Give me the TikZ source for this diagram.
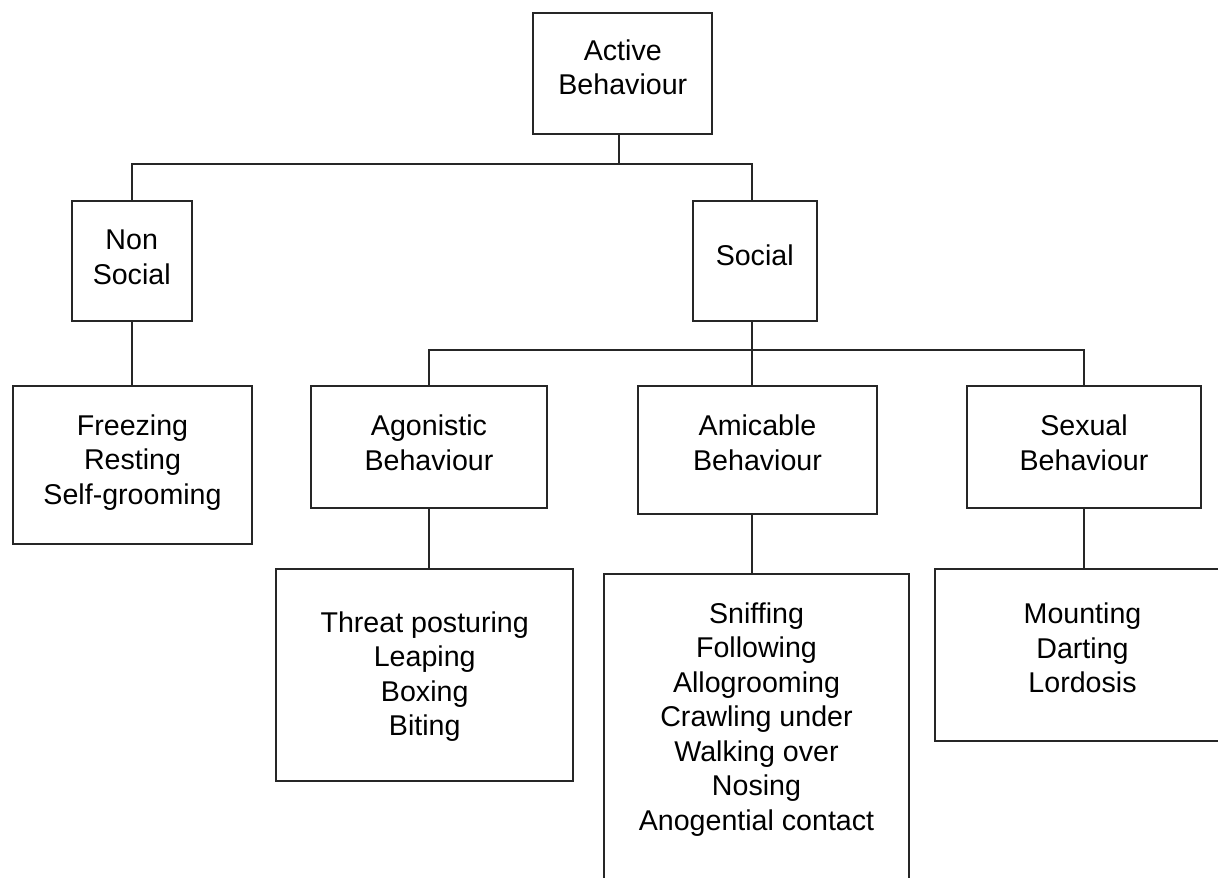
\documentclass[tikz,border=0pt]{standalone}
\usepackage{fontspec}
\setmainfont{Liberation Sans}
\usepackage{tikz}
\usetikzlibrary{positioning}

\begin{document}
\begin{tikzpicture}[x=0.5pt,y=-0.5pt,
  every node/.style={font=\fontsize{14.3}{17.25}\selectfont,align=center},
  box/.style={draw=black!85,line width=1pt,inner sep=0pt},
  link/.style={draw=black!85,line width=1pt}]
\useasboundingbox (0,0) rectangle (1218,877);
\clip (0,0) rectangle (1218,877);
% top levels
\node[box,minimum width=89.5pt,minimum height=60.8pt,label={[yshift=3pt]center:{Active\\Behaviour}}] (act) at (622.8,73.5) {};
\node[box,minimum width=60pt,minimum height=60pt,label={[yshift=1.6pt]center:{Non\\Social}}] (non) at (131.7,260.7) {};
\node[box,minimum width=62pt,minimum height=60pt,label={[yshift=2.8pt]center:{Social}}] (soc) at (754.7,260.7) {};
% categories
\node[box,minimum width=119.2pt,minimum height=79pt,label={[yshift=1.2pt]center:{Freezing\\Resting\\Self-grooming}}] (frz) at (132.5,465) {};
\node[box,minimum width=118.3pt,minimum height=60.8pt,label={[yshift=2pt]center:{Agonistic\\Behaviour}}] (ago) at (429,446.8) {};
\node[box,minimum width=119.2pt,minimum height=64pt,label={[yshift=3.5pt]center:{Amicable\\Behaviour}}] (ami) at (757.5,450) {};
\node[box,minimum width=116.7pt,minimum height=60.8pt,label={[yshift=2pt]center:{Sexual\\Behaviour}}] (sex) at (1084,446.8) {};
% behaviour lists
\node[box,minimum width=148.7pt,minimum height=105.8pt,label={[yshift=-0.8pt]center:{Threat posturing\\Leaping\\Boxing\\Biting}}] (thr) at (424.7,674.8) {};
\node[box,minimum width=152.5pt,minimum height=160.4pt,label={[yshift=7.8pt]center:{Sniffing\\Following\\Allogrooming\\Crawling under\\Walking over\\Nosing\\Anogential contact}}] (snf) at (756.5,734.7) {};
\node[box,minimum width=147.5pt,minimum height=86pt,label={[yshift=3.6pt]center:{Mounting\\Darting\\Lordosis}}] (mnt) at (1082.5,655) {};
% connectors
\coordinate (bus1) at (0,164);
\coordinate (bus2) at (0,350);
\draw[link] ([xshift=-2pt]act.south) -- ([xshift=-2pt]act.south |- bus1) -| (non.north);
\draw[link] ([xshift=-2pt]act.south |- bus1) -| ([xshift=-1.5pt]soc.north);
\draw[link] ([xshift=-1.5pt]soc.south) -- ([xshift=-1.5pt]soc.south |- ami.north);
\draw[link] ([xshift=-1.5pt]soc.south |- bus2) -| (ago.north);
\draw[link] ([xshift=-1.5pt]soc.south |- bus2) -| (sex.north);
\foreach \a/\b in {non/frz,ago/thr,sex/mnt}
  \draw[link] (\a.south) -- (\a.south |- \b.north);
\draw[link] ([xshift=-1.5pt]soc.south |- ami.south) -- ([xshift=-1.5pt]soc.south |- snf.north);
\end{tikzpicture}
\end{document}
